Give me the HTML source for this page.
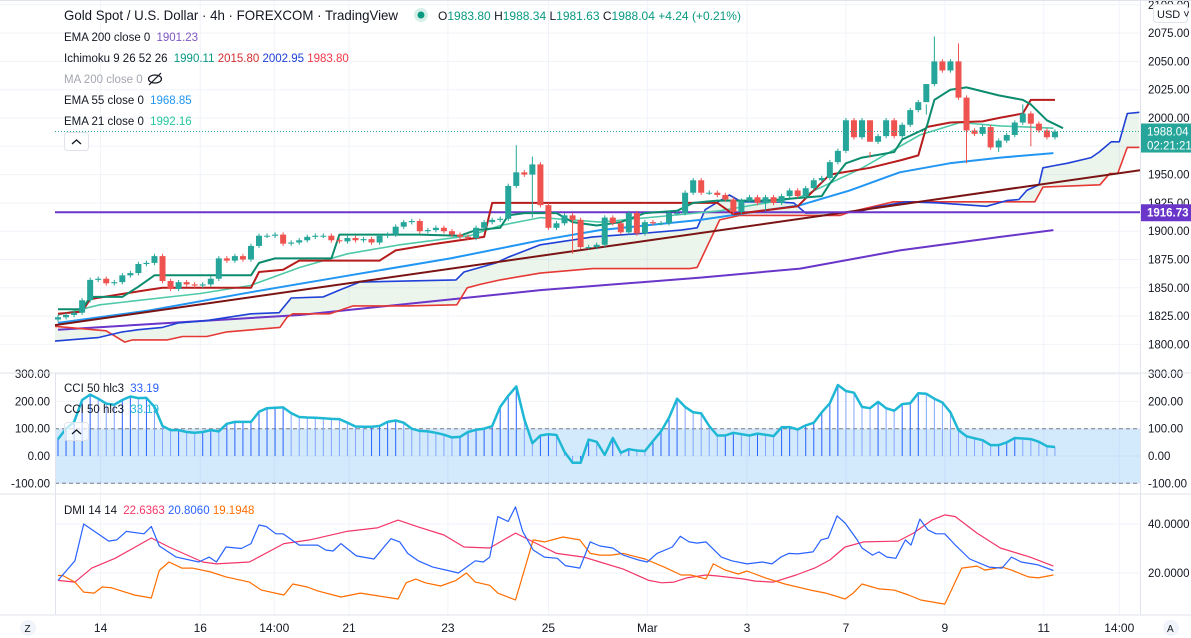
<!DOCTYPE html>
<html><head><meta charset="utf-8"><style>
html,body{margin:0;padding:0;background:#fff;}
svg{display:block;font-family:"Liberation Sans",sans-serif;}
</style></head><body>
<svg id="chart" width="1191" height="638" viewBox="0 0 1191 638" xmlns="http://www.w3.org/2000/svg">
<rect x="0" y="0" width="1191" height="638" fill="#ffffff"/>
<g id="grid"></g>
<g id="main"></g>
<g id="cci"></g>
<g id="dmi"></g>
<g id="axes"></g>
<line x1="0" y1="373" x2="1191" y2="373" stroke="#e0e3eb"/>
<line x1="0" y1="494" x2="1191" y2="494" stroke="#e0e3eb"/>
<line x1="0" y1="615" x2="1191" y2="615" stroke="#e0e3eb"/>
<line x1="1140.5" y1="0" x2="1140.5" y2="615" stroke="#e0e3eb"/>
<line x1="55.5" y1="373" x2="55.5" y2="615" stroke="#e0e3eb"/>
<line x1="0" y1="0.5" x2="1191" y2="0.5" stroke="#e0e3eb"/>

<g font-size="11.5" fill="#131722">
<text x="64" y="20" font-size="14" textLength="334" lengthAdjust="spacingAndGlyphs">Gold Spot / U.S. Dollar · 4h · FOREXCOM · TradingView</text>
<circle cx="421" cy="15" r="7" fill="#d7efe9"/>
<circle cx="421" cy="15" r="3.5" fill="#089981"/>
<text x="438" y="20" font-size="12"><tspan fill="#131722">O</tspan><tspan fill="#089981">1983.80 </tspan><tspan fill="#131722">H</tspan><tspan fill="#089981">1988.34 </tspan><tspan fill="#131722">L</tspan><tspan fill="#089981">1981.63 </tspan><tspan fill="#131722">C</tspan><tspan fill="#089981">1988.04 +4.24 (+0.21%)</tspan></text>
<text x="64" y="41">EMA 200 close 0 <tspan fill="#7e57c2" dx="3">1901.23</tspan></text>
<text x="64" y="62">Ichimoku 9 26 52 26 <tspan fill="#089981" dx="3">1990.11</tspan> <tspan fill="#d32f2f">2015.80</tspan> <tspan fill="#1e40d6">2002.95</tspan> <tspan fill="#f23645">1983.80</tspan></text>
<text x="64" y="83" fill="#a3a6af">MA 200 close 0</text>
<g stroke="#131722" fill="none" stroke-width="1.2"><ellipse cx="155" cy="79" rx="6.5" ry="4"/><line x1="149" y1="85" x2="161" y2="73"/></g>
<text x="64" y="104">EMA 55 close 0 <tspan fill="#2196f3" dx="3">1968.85</tspan></text>
<text x="64" y="125">EMA 21 close 0 <tspan fill="#26c6a0" dx="3">1992.16</tspan></text>
<rect x="64.5" y="132.5" width="24" height="18" rx="3" fill="#fff" stroke="#e0e3eb"/>
<path d="M72 144 L76.5 140 L81 144" stroke="#131722" fill="none" stroke-width="1.3"/>
<text x="64" y="392">CCI 50 hlc3 <tspan fill="#2962ff" dx="3">33.19</tspan></text>
<text x="64" y="413">CCI 50 hlc3 <tspan fill="#1fb8d4" dx="3">33.19</tspan></text>
<rect x="64.5" y="422.5" width="24" height="18" rx="3" fill="#fff" fill-opacity="0.7" stroke="#e0e3eb"/>
<path d="M72 434 L76.5 430 L81 434" stroke="#131722" fill="none" stroke-width="1.3"/>
<text x="64" y="514">DMI 14 14 <tspan fill="#f23669" dx="3">22.6363</tspan> <tspan fill="#2962ff">20.8060</tspan> <tspan fill="#ff6d00">19.1948</tspan></text>
</g>
<g><rect x="1153.5" y="4.5" width="34" height="18" rx="3" fill="#fff" stroke="#e0e3eb"/><text x="1157" y="18" font-size="11" fill="#131722">USD ˅</text></g>
<g><circle cx="28" cy="628" r="8" fill="#f0f3fa"/><text x="24.5" y="632" font-size="10" fill="#131722">Z</text></g>
<g><circle cx="1171" cy="628" r="8" fill="#f0f3fa"/><text x="1167" y="632" font-size="10" fill="#131722">A</text></g>
</svg>
<script>
// ---------- DATA ----------
const closes = [1824,1826,1828,1839,1857,1858,1854,1855,1861,1863,
1871,1872,1878,1856,1849,1855,1853,1852,1853,1858,
1876,1874,1878,1875,1887,1896,1896,1897,1889,1890,
1892,1895,1896,1896,1892,1891,1894,1892,1893,1890,
1896,1897,1904,1908,1909,1900,1901,1903,1900,1897,
1895,1894,1903,1908,1910,1911,1940,1952,1950,1959,
1923,1903,1907,1914,1910,1886,1886,1888,1912,1907,
1899,1916,1898,1908,1907,1907,1916,1916,1934,1945,
1934,1934,1932,1928,1917,1927,1930,1925,1930,1925,
1931,1936,1931,1938,1945,1947,1961,1971,1998,1983,
1998,1979,1984,1998,1984,1994,2007,2014,2030,2050,
2042,2050,2018,1989,1986,1992,1974,1980,1985,1996,
2004,1995,1989,1983,1988];
const firstOpen = 1822;
const highSpikes = {57:1976,59:1966,101:1970,108:2003,109:2072,112:2066,120:2012};
const lowSpikes = {59:1912,64:1880,88:1918,101:1965,113:1960,117:1970,121:1975};
const tenkan = [[0,1831],[3,1831],[4,1842],[8,1842],[10,1851],[12,1861],[24,1861],[25,1872],[27,1876],[34,1876],[35,1897],[45,1897],[50,1896],[52,1901],[55,1903],[56,1914],[58,1916],[62,1916],[64,1908],[67,1905],[70,1908],[73,1916],[77,1918],[79,1925],[82,1927],[88,1927],[95,1931],[96,1942],[98,1960],[100,1965],[104,1970],[105,1981],[108,1991],[109,2016],[111,2025],[113,2027],[117,2020],[120,2016],[121,2012],[123,1998],[125,1991]];
const kijun = [[0,1827],[3,1829],[4,1840],[11,1848],[13,1850],[24,1850],[25,1864],[28,1866],[30,1874],[40,1874],[42,1883],[47,1889],[50,1892],[53,1895],[54,1925],[82,1925],[84,1915],[92,1922],[96,1950],[101,1956],[105,1963],[107,1967],[108,1992],[111,1996],[115,1997],[117,2000],[120,2004],[121,2016],[124,2016]];
const senkouA = [[-2,1802],[5,1806],[8,1811],[10,1813],[13,1815],[15,1819],[18.5,1821],[24,1827],[27.5,1828],[29,1841],[33,1842],[35,1848],[37.5,1855],[49.5,1857],[50.5,1864],[54.5,1872],[56,1877],[60,1888],[66.5,1895],[72.5,1898],[77.5,1901],[79.5,1903],[80.5,1919],[83.5,1932],[85,1926],[89,1926],[91.5,1925],[93,1916],[99.5,1917],[101.5,1921],[105.5,1926],[109.5,1925],[115.5,1922],[118,1927],[119.5,1928],[120.5,1936],[122,1941],[122.5,1956],[124,1958],[125.5,1960],[128.5,1965],[129.5,1970],[131,1979],[132,1979],[133,2004],[134.5,2005]];
const senkouB = [[-2,1817],[6,1812],[8.3,1802],[9.3,1804],[13.6,1804],[15.5,1807],[18.5,1807],[21,1811],[27.6,1815],[28.5,1824],[29.2,1827],[33.8,1827],[36.7,1834],[43.4,1834],[49.6,1835],[50.9,1850],[52.5,1853],[55,1857],[60,1863],[66.5,1867],[78.6,1867],[79.5,1868],[82.3,1910],[84.8,1914],[97.3,1914],[98.5,1917],[103.9,1926],[113.8,1926],[121.5,1926],[122.5,1939],[129.6,1941],[130.8,1951],[131.8,1951],[133,1974],[134.5,1974]];
const ema21 = [[0,1826],[5.2,1835],[17.7,1845],[23.9,1852],[30.1,1868],[36,1880],[42.5,1888],[51.2,1896],[55,1905],[60,1912],[67.4,1908],[74.9,1913],[82.3,1918],[92.3,1930],[99.8,1955],[107.2,1985],[112.2,1996],[117.2,1993],[123.8,1991]];
const ema55 = [[0,1819],[11.4,1830],[23.9,1846],[36.3,1861],[48.8,1876],[60,1892],[67.4,1901],[79.9,1910],[92.3,1923],[98.5,1936],[104.7,1952],[110.9,1960],[117.2,1965],[123.8,1969]];
const ema200 = [[0,1813],[30.1,1826],[60,1848],[79.9,1859],[92.3,1867],[104.7,1883],[117.2,1895],[123.8,1901]];
const trendLine = [[-0.4,1817],[134.7,1954]];
const hLevel = 1916.73;
const lastPrice = 1988.04;
const priceTicks = [2100,2075,2050,2025,2000,1975,1950,1925,1900,1875,1850,1825,1800];
const cciVals = [62,100,125,205,225,210,192,188,205,218,212,213,180,110,95,95,88,85,88,95,
90,118,125,125,125,162,175,177,178,157,143,141,140,138,136,135,122,108,107,107,
110,125,130,122,100,92,90,85,78,68,70,88,96,100,110,180,220,255,135,47,
75,80,77,15,-25,-25,60,52,4,66,12,25,20,18,55,90,140,210,180,160,
156,110,75,75,85,80,75,82,78,73,105,106,97,112,122,160,193,260,238,232,
180,175,198,175,166,190,193,230,228,210,196,160,95,72,65,58,40,40,50,66,
64,62,52,36,33];
const cciTicks = [300,200,100,0,-100];
const dmiPlus = [[0,17],[2.1,25],[3.2,40],[6.3,33],[7.3,33.5],[8.5,37],[10.7,36],[11.6,39],[12.6,31],[14.7,26.5],[17.5,24.5],[18.8,26.5],[19.7,24.5],[20.9,30.6],[22.8,30],[24,32],[25,39.6],[25.9,39],[27.1,36],[28,36],[30,31.4],[32.3,31.4],[33.3,29.4],[34.2,29],[35.2,32],[37.1,27],[39.3,25.7],[41.4,34],[42.5,32.7],[43.5,28],[44.8,25],[46.6,22.4],[48.5,21],[49.8,20],[51.9,25],[52.9,24.5],[53.7,26.5],[54.7,43],[56,41],[56.9,47],[57.8,37],[59.1,29.4],[60.5,26.5],[62.1,26],[63.1,23],[64.9,22],[66.2,32.7],[67.4,31],[69,30.2],[70.3,27.3],[72.2,25.3],[73.3,24.5],[74.5,28],[76.4,30.6],[77.4,35],[78.5,32.7],[79.5,32.2],[80.6,32.7],[82.5,26.5],[83.8,25],[85.7,23.7],[87.6,24.5],[88.8,23.7],[89.9,26.5],[90.9,28],[92,27.8],[93.9,28.6],[94.9,33.5],[95.8,34.3],[96.9,43.3],[97.9,40.4],[99.4,33.5],[100,30.2],[101.3,27.3],[102.1,28.6],[103.1,26.5],[104.2,26],[105.4,33.5],[106.1,31.4],[107.2,42],[108.2,37.6],[109.2,36],[110.3,36],[111.6,31.4],[113.4,25.7],[115.8,22.4],[117.4,22],[118.6,26.5],[119.8,24.5],[121.9,23.3],[123.8,21]];
const dmiAdx = [[0,17],[2.1,16.3],[4.2,22],[7.1,26],[11.6,34.3],[13.8,30.6],[18,24.5],[19.7,23.7],[23.8,24.5],[28.1,32],[31.3,33.5],[35.9,37],[39.7,38.4],[42.3,41.6],[44.8,38.8],[48,35.5],[50.5,30.6],[53.7,30.2],[56.9,36.3],[59.1,32.7],[62,28],[65.4,26.5],[67.4,24.5],[70.3,21.6],[73.5,17],[75.1,16],[76.6,16.3],[78.2,18],[80.6,19.2],[81.9,18.8],[85.2,17.6],[86.7,16.7],[89,16.3],[91.8,19.2],[94.1,22],[96,25.3],[97.9,30.6],[100.2,32.7],[104.5,33],[106.4,36.3],[108.7,41.6],[110.3,43.7],[111.6,43],[114.3,36.3],[117.2,30.2],[120.9,26.5],[123.8,22.8]];
const dmiMinus = [[0,19],[0.6,19],[2.1,16.3],[3.2,12.2],[4.5,11.8],[5.5,14.3],[6.6,14],[9.5,11],[11.6,9.8],[12.6,21],[13.8,24.5],[15.4,22],[16.7,22],[19,20.4],[20.9,18.4],[23.8,16.3],[25.3,13],[28.1,11],[29.2,15.5],[31,14.3],[32.3,12.7],[35.2,10.2],[37.6,11.8],[42.3,9.4],[43.3,16],[44.5,17.5],[45.7,16],[47.6,14.7],[49.5,17],[50.8,20],[51.9,16.3],[53.7,15],[54.7,11.8],[56.9,9],[59.1,33.5],[60.5,32.7],[62.8,34.7],[64.9,33.5],[66.2,28],[67.4,27.3],[68.8,27.3],[70.3,28],[73,25.7],[75.4,22.4],[77.5,19.2],[78.7,19.2],[80.6,17.6],[81.5,23.7],[83,21.2],[84.6,19.6],[85.7,20.8],[88,18],[90.4,15.5],[93.6,13],[95.5,11.8],[97.9,9.4],[98.9,11.8],[100,15.5],[102.1,13.5],[104,13],[105.8,11],[107.3,9],[110.3,7.3],[112.4,22],[114.3,22.8],[115.3,21.2],[117.4,22.4],[118.6,21.2],[120.7,18.4],[121.9,18],[123.8,19.2]];
const dmiTicks = [40,20];
const timeLabels = ["14","16","14:00","21","23","25","Mar","3","7","9","11","14:00"];
const timeLabelBars = [5.3,17.7,26.9,36.2,48.5,61,73.3,85.7,98,110.3,122.6,132];

// ---------- SCALES ----------
const X = i => 58 + i * 8.04;
const Yp = p => 118 + (2000 - p) * 1.132;
const Yc = v => 456 - v * 0.273;
const Yd = v => 573 - (v - 20) * 2.45;
const NS = "http://www.w3.org/2000/svg";
function mk(tag, attrs, parent) {
  const e = document.createElementNS(NS, tag);
  for (const k in attrs) e.setAttribute(k, attrs[k]);
  parent.appendChild(e);
  return e;
}
const grid = document.getElementById('grid');
const main = document.getElementById('main');
const cci = document.getElementById('cci');
const dmi = document.getElementById('dmi');
const axes = document.getElementById('axes');

timeLabelBars.forEach((b, k) => {
  const gl = mk('line', {x1: X(b), y1: 0, x2: X(b), y2: 615, stroke: '#f0f3fa'}, grid);
  
  
  const t = mk('text', {x: X(b), y: 632, 'text-anchor': 'middle', 'font-size': 12, fill: '#131722'}, axes);
  t.textContent = timeLabels[k];
  
  
});
priceTicks.forEach(p => {
  const gl = mk('line', {x1: 0, y1: Yp(p), x2: 1140, y2: Yp(p), stroke: '#f0f3fa'}, grid);
  
  
  const t = mk('text', {x: 1148, y: Yp(p) + 4, 'font-size': 11.5, fill: '#131722'}, axes);
  t.textContent = p.toFixed(2);
  
  
});
cciTicks.forEach(v => {
  const gl = mk('line', {x1: 55, y1: Yc(v), x2: 1140, y2: Yc(v), stroke: '#f0f3fa'}, grid);
  
  
  [[1148, 'start'], [50, 'end']].forEach(([x, a]) => {
    const t = mk('text', {x: x, y: Yc(v) + 4, 'font-size': 11.5, fill: '#131722', 'text-anchor': a}, axes);
    t.textContent = v.toFixed(2);
    
    
  });
});
dmiTicks.forEach(v => {
  const gl = mk('line', {x1: 55, y1: Yd(v), x2: 1140, y2: Yd(v), stroke: '#f0f3fa'}, grid);
  
  
  const t = mk('text', {x: 1148, y: Yd(v) + 4, 'font-size': 11.5, fill: '#131722'}, axes);
  t.textContent = v.toFixed(4);
  
  
});

const defs = mk('defs', {}, document.getElementById('chart'));
const cp = mk('clipPath', {id: 'mainclip'}, defs);
mk('rect', {x: 55, y: 0, width: 1085, height: 372}, cp);
main.setAttribute('clip-path', 'url(#mainclip)');

const pts = (arr, yf) => arr.map(d => X(d[0]).toFixed(1) + ',' + yf(d[1]).toFixed(1)).join(' ');

const cloud = mk('polygon', {points: pts(senkouA, Yp) + ' ' + pts(senkouB.slice().reverse(), Yp), fill: 'rgba(67,160,71,0.1)'}, main);



function line(arr, color, w, name, yf, parent) {
  const l = mk('polyline', {points: pts(arr, yf), fill: 'none', stroke: color, 'stroke-width': w, 'stroke-linejoin': 'round'}, parent);
  
  
}
line(ema200, '#6a35c9', 2, 'ema200-line', Yp, main);
line(senkouB, '#e53935', 1.6, 'senkou-b-line', Yp, main);
line(senkouA, '#1e40d6', 1.6, 'senkou-a-line', Yp, main);
line(ema55, '#2196f3', 2, 'ema55-line', Yp, main);
line(trendLine, '#7b1414', 2, 'trend-line', Yp, main);
const hl = mk('line', {x1: 0, y1: Yp(hLevel), x2: 1140, y2: Yp(hLevel), stroke: '#6a35c9', 'stroke-width': 2}, main);


line(ema21, '#4fc9a8', 1.6, 'ema21-line', Yp, main);
line(kijun, '#b71c1c', 2, 'kijun-line', Yp, main);
line(tenkan, '#0b8c6e', 2, 'tenkan-line', Yp, main);

closes.forEach((c, i) => {
  const o = i === 0 ? firstOpen : closes[i - 1];
  const up = c >= o;
  const col = up ? '#26a69a' : '#ef5350';
  const hi = highSpikes[i] !== undefined ? highSpikes[i] : Math.max(o, c) + 2;
  const lo = lowSpikes[i] !== undefined ? lowSpikes[i] : Math.min(o, c) - 2;
  const g = mk('g', {}, main);
  
  
  mk('line', {x1: X(i), y1: Yp(hi), x2: X(i), y2: Yp(lo), stroke: col, 'stroke-width': 1}, g);
  const top = Yp(Math.max(o, c)), bot = Yp(Math.min(o, c));
  mk('rect', {x: X(i) - 3, y: top, width: 6, height: Math.max(1, bot - top), fill: col}, g);
});
const lp = mk('line', {x1: 55, y1: Yp(lastPrice), x2: 1140, y2: Yp(lastPrice), stroke: '#26a69a', 'stroke-dasharray': '1 2'}, main);



const b1 = mk('g', {}, axes);


mk('rect', {x: 1141, y: Yp(lastPrice) - 8, width: 50, height: 29, fill: '#26a69a'}, b1);
const t1 = mk('text', {x: 1147, y: Yp(lastPrice) + 4, 'font-size': 11.5, fill: '#fff'}, b1); t1.textContent = lastPrice.toFixed(2);
const t2 = mk('text', {x: 1147, y: Yp(lastPrice) + 18, 'font-size': 11.5, fill: '#fff'}, b1); t2.textContent = '02:21:21';
const b2 = mk('g', {}, axes);


mk('rect', {x: 1141, y: Yp(hLevel) - 8, width: 50, height: 17, fill: '#6a35c9'}, b2);
const t3 = mk('text', {x: 1147, y: Yp(hLevel) + 4, 'font-size': 11.5, fill: '#fff', 'font-weight': 'bold'}, b2); t3.textContent = hLevel.toFixed(2);

const band = mk('rect', {x: 55, y: Yc(100), width: 1085, height: Yc(-100) - Yc(100), fill: 'rgba(33,150,243,0.2)'}, cci);


[100, -100].forEach(v => {
  const d = mk('line', {x1: 55, y1: Yc(v), x2: 1140, y2: Yc(v), stroke: '#787b86', 'stroke-dasharray': '4 3'}, cci);
  
  
});
cciVals.forEach((v, i) => {
  const falling = i > 0 && v < cciVals[i - 1];
  const h = mk('line', {x1: X(i), y1: Yc(0), x2: X(i), y2: Yc(v), stroke: falling ? '#82a5ff' : '#2962ff', 'stroke-width': 1}, cci);
  
  
});
line(cciVals.map((v, i) => [i, v]), '#1fb8d4', 2.5, 'cci-line', Yc, cci);

line(dmiAdx, '#f23669', 1.2, 'adx-line', Yd, dmi);
line(dmiMinus, '#ff6d00', 1.2, 'minus-di-line', Yd, dmi);
line(dmiPlus, '#2962ff', 1.2, 'plus-di-line', Yd, dmi);
</script>
</body></html>
